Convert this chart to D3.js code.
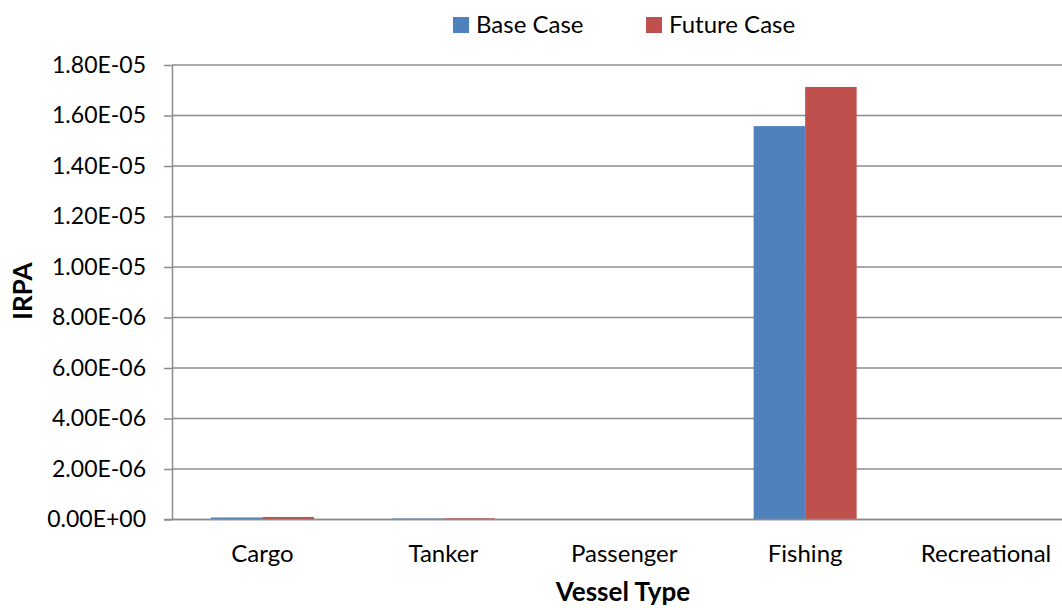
<!DOCTYPE html>
<html><head><meta charset="utf-8">
<script src="https://cdn.jsdelivr.net/npm/d3@7"></script>
<style>html,body{margin:0;padding:0;background:#fff;overflow:hidden}svg{display:block}text{font-family:Lato,"Open Sans",sans-serif}</style>
</head><body>
<svg id="c" width="1062" height="610"></svg>
<script>
const categories = ["Cargo","Tanker","Passenger","Fishing","Recreational"];
const seriesNames = ["Base Case","Future Case"];
const baseCase = [8e-8, 4e-8, 0, 1.558e-5, 0];
const futureCase = [1.0e-7, 5e-8, 0, 1.713e-5, 0];
const yTicks = [0,2e-6,4e-6,6e-6,8e-6,1e-5,1.2e-5,1.4e-5,1.6e-5,1.8e-5];
const yTickLabels = ["0.00E+00","2.00E-06","4.00E-06","6.00E-06","8.00E-06","1.00E-05","1.20E-05","1.40E-05","1.60E-05","1.80E-05"];
const colors = ["#4F81BD","#C0504D"];

const svg = d3.select("#c");
const mLeft = 172, mTop = 65, mBottom = 519.5, step = 180.9;
const mRight = mLeft + step*categories.length;

const y = d3.scaleLinear().domain([0,1.8e-5]).range([mBottom, mTop]);
const x0 = d3.scaleBand().domain(categories).range([mLeft, mRight]).padding(0);
const x1 = d3.scaleBand().domain(seriesNames).range([38.95, step-38.95]).padding(0);

// gridlines
svg.append("g").selectAll("line").data(yTicks).join("line")
  .attr("x1", mLeft).attr("x2", 1062)
  .attr("y1", d=>y(d)).attr("y2", d=>y(d))
  .attr("stroke","#8c8c8c").attr("stroke-width",1.5);

// y axis
const yAxis = d3.axisLeft(y).tickValues(yTicks)
  .tickFormat((d,i)=>yTickLabels[i]).tickSizeInner(8).tickSizeOuter(0).tickPadding(18);
const gy = svg.append("g").attr("transform",`translate(${mLeft},0)`).call(yAxis);
gy.select(".domain").attr("stroke","#8c8c8c").attr("stroke-width",1.5);
gy.selectAll(".tick line").attr("stroke","#8c8c8c").attr("stroke-width",1.5);
gy.selectAll(".tick text").attr("font-size",23).attr("fill","#000").attr("font-family","Lato,sans-serif");

// bars
const data = categories.map((c,i)=>({cat:c, vals:[baseCase[i], futureCase[i]]}));
const groups = svg.append("g").selectAll("g").data(data).join("g")
  .attr("transform", d=>`translate(${x0(d.cat)},0)`);
groups.selectAll("rect").data(d=>d.vals.map((v,j)=>({v, s:seriesNames[j], j})))
  .join("rect")
  .attr("x", d=>x1(d.s)).attr("width", x1.bandwidth())
  .attr("y", d=>y(d.v)).attr("height", d=>mBottom - y(d.v))
  .attr("fill", d=>colors[d.j]);

// redraw baseline on top
svg.append("line").attr("x1",mLeft-8).attr("x2",1062).attr("y1",mBottom).attr("y2",mBottom)
  .attr("stroke","#8c8c8c").attr("stroke-width",1.5);

// x labels
const xAxis = d3.axisBottom(x0).tickSize(0);
const gx = svg.append("g").attr("transform",`translate(0,${mBottom})`).call(xAxis);
gx.select(".domain").remove();
gx.selectAll(".tick text").attr("font-size",24).attr("fill","#000").attr("font-family","Lato,sans-serif")
  .attr("y",42.5).attr("dy",0);

// axis titles
svg.append("text").attr("x",623).attr("y",601).attr("text-anchor","middle")
  .attr("font-size",26).attr("font-weight","bold").text("Vessel Type");
svg.append("text").attr("transform","translate(32,291) rotate(-90)").attr("text-anchor","middle")
  .attr("font-size",26).attr("font-weight","bold").text("IRPA");

// legend
const legX = [453, 646];
const leg = svg.append("g").selectAll("g").data(seriesNames).join("g")
  .attr("transform",(d,i)=>`translate(${legX[i]},0)`);
leg.append("rect").attr("x",0).attr("y",17).attr("width",16).attr("height",16).attr("fill",(d,i)=>colors[i]);
leg.append("text").attr("x",23).attr("y",33).attr("font-size",24).attr("fill","#000").text(d=>d);
</script>
</body></html>
